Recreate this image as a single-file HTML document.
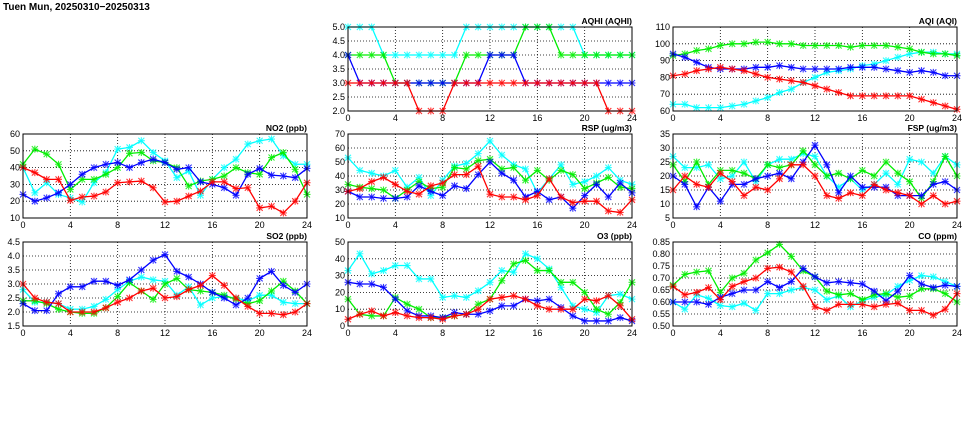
<!DOCTYPE html>
<html><head><meta charset="utf-8"><style>
body{margin:0;background:#fff;width:975px;height:447px;overflow:hidden}
svg{display:block}
text{font-family:"Liberation Sans",sans-serif;font-size:9px;fill:#000}
</style></head><body>
<svg id="s" width="975" height="447" xmlns="http://www.w3.org/2000/svg">
<text x="3" y="10" style="font-size:10px;font-weight:bold">Tuen Mun, 20250310−20250313</text>
</svg>
<script>
const S=document.getElementById('s');let h='';
const C={r:'#ff0000',c:'#00ffff',g:'#00ee00',b:'#0000ff'};
const panels=[
{x:348,y:27,t:'AQHI (AQHI)',min:2,max:5,st:0.5,dec:1,d:{
c:[5,5,5,4,4,4,4,4,4,4,5,5,5,5,5,5,5,5,5,5,4,4,4,4,4],
g:[4,4,4,4,3,3,3,3,3,3,4,4,4,4,4,5,5,5,4,4,4,4,4,4,4],
b:[4,3,3,3,3,3,3,3,3,3,3,3,4,4,4,3,3,3,3,3,3,3,3,3,3],
r:[3,3,3,3,3,3,2,2,2,3,3,3,3,3,3,3,3,3,3,3,3,3,2,2,2]}},
{x:673,y:27,t:'AQI (AQI)',min:60,max:110,st:10,dec:0,d:{
g:[93,94,96,97,99,100,100,101,101,100,100,99,99,99,99,98,99,99,99,98,97,95,94,94,93],
b:[94,92,89,86,85,85,85,86,86,87,86,85,85,85,85,86,86,86,85,84,83,84,83,81,81],
r:[81,82,84,85,86,85,84,82,80,79,78,77,75,73,71,69,69,69,69,69,69,67,65,63,61],
c:[64,64,62,62,62,63,64,66,68,71,73,77,80,83,84,85,87,88,90,92,94,95,95,94,94]}},
{x:23,y:134,t:'NO2 (ppb)',min:10,max:60,st:10,dec:0,d:{
r:[40,37,33,33,20.5,22.5,23,25.5,31,31.5,32,28,19.5,20,23,26,31.5,31.5,27.5,28,16,17,13,20,31],
c:[40,25,31,24,22,19.5,31,37,51,52,56,49,44,34,38,23.5,33,40,45,54,56,57,47,42,42],
g:[42,51,48,42,27,33,33,36,40,48.5,49,44,43,40,29,32,33,35,40,37,36,46,49,39,24],
b:[24,20,22,25,30,36,40,42,43,40,43,45,43,39,40,31.5,30,28,23.5,36,39.5,35.5,35,34,39.5]}},
{x:348,y:134,t:'RSP (ug/m3)',min:10,max:70,st:10,dec:0,d:{
c:[53,44,42,40,44,32,39,26,37,47,49,56,65,55,48,45,28,38,48,34,36,40,46,37,34],
g:[34,32,31,30,24,30,36,31,32,46,45,51,52,45,46,37,44,37,44,41,31,35,39,32,31],
r:[29,31,36,39,34,29,27,33,35,41,41,47,27,25,25,23,26,38,25,21,22,22,15,14,23],
b:[29,25,25,24,24,25,33,29,26,33,31,41,50,42,37,25,29,23,25,17,26,34,25,35,28]}},
{x:673,y:134,t:'FSP (ug/m3)',min:5,max:35,st:5,dec:0,d:{
c:[27,23,23,24,19,20,25,18,24,26,26,28,27,20,16,19,15,17,21,17,26,25,21,27,24],
g:[24,18,25,17,22,22,21,19,24,23,24,29,24,20,21,19,22,20,25,21,18,12,18,27,20],
r:[15,20,17,16,21,18,13,16,15,19,24,24,20,13,12,14,13,17,15,14,13,10,13,10,11],
b:[20,17,9,16,11,17,17,19,20,21,19,25,31,24,14,20,16,16,16,13,13,13,17,18,15]}},
{x:23,y:242,t:'SO2 (ppb)',min:1.5,max:4.5,st:0.5,dec:1,d:{
r:[3.0,2.5,2.35,2.3,2.0,2.0,2.0,2.15,2.35,2.5,2.75,2.85,2.5,2.55,2.8,2.95,3.3,2.95,2.5,2.2,1.95,1.95,1.9,2.0,2.3],
c:[2.8,2.35,2.35,2.3,2.1,2.1,2.2,2.45,2.8,3.1,3.25,3.15,3.1,2.6,2.9,2.25,2.5,2.55,2.5,2.4,2.6,2.6,2.35,2.3,2.3],
g:[2.4,2.4,2.3,2.1,2.0,1.95,1.95,2.15,2.55,3.05,2.75,2.45,3.0,3.2,2.8,2.75,2.7,2.6,2.45,2.3,2.4,2.75,3.1,2.75,2.3],
b:[2.3,2.05,2.05,2.65,2.9,2.9,3.1,3.1,2.95,3.15,3.5,3.85,4.05,3.45,3.25,3.0,2.7,2.5,2.25,2.5,3.2,3.45,2.95,2.7,3.0]}},
{x:348,y:242,t:'O3 (ppb)',min:0,max:50,st:10,dec:0,d:{
c:[33,43,31,33,36,36,28,28,17,18,17,21,26,33,32,43,40,34,23,12,10,8,18,19,16],
g:[16,7,6,6,17,13,10,5,5,6,7,13,16,27,37,39,33,33,26,26,20,10,7,14,26],
r:[4,7,9,6,8,6,5,5,4,6,7,10,16,17,18,16,12,10,10,10,16,15,18,12,4],
b:[26,25,25,23,16,9,6,6,5,8,7,7,9,12,12,16,15,16,11,6,3,3,3,5,3]}},
{x:673,y:242,t:'CO (ppm)',min:0.5,max:0.85,st:0.05,dec:2,d:{
g:[.67,.715,.725,.73,.64,.70,.72,.775,.805,.84,.79,.73,.705,.645,.63,.635,.61,.63,.635,.62,.625,.655,.655,.635,.60],
r:[.665,.63,.64,.66,.61,.665,.685,.70,.74,.745,.725,.665,.58,.565,.59,.59,.59,.58,.59,.595,.565,.565,.545,.57,.635],
c:[.60,.57,.63,.615,.585,.58,.595,.565,.635,.635,.65,.66,.65,.61,.625,.58,.605,.62,.63,.665,.69,.71,.705,.685,.665],
b:[.60,.60,.60,.59,.62,.635,.65,.65,.685,.66,.685,.74,.705,.68,.685,.68,.675,.645,.605,.645,.71,.675,.66,.67,.665]}}
];
const W=284,H=84;
for(const p of panels){
 const X=i=>p.x+i*W/24, Y=v=>p.y+H-(v-p.min)/(p.max-p.min)*H;
 h+=`<rect x="${p.x}" y="${p.y}" width="${W}" height="${H}" fill="#fff"/>`;
 const n=Math.round((p.max-p.min)/p.st);
 for(let k=0;k<=n;k++){const v=p.min+k*p.st,y=Y(v);
  if(k>0&&k<n)h+=`<line x1="${p.x}" x2="${p.x+W}" y1="${y}" y2="${y}" stroke="#000" stroke-width="0.8" stroke-dasharray="1,2"/>`;
  h+=`<text x="${p.x-3}" y="${y+3}" text-anchor="end">${v.toFixed(p.dec)}</text>`;}
 for(let i=0;i<=24;i+=4){const x=X(i);
  if(i>0&&i<24)h+=`<line x1="${x}" x2="${x}" y1="${p.y}" y2="${p.y+H}" stroke="#000" stroke-width="0.8" stroke-dasharray="1,2"/>`;
  h+=`<text x="${x}" y="${p.y+H+10}" text-anchor="middle">${i}</text>`;}
 h+=`<text x="${p.x+W}" y="${p.y-3}" text-anchor="end" style="font-weight:bold;font-size:8.5px">${p.t}</text>`;
 for(const k of ['c','g','b','r']){const d=p.d[k];if(!d)continue;
  h+=`<svg x="${p.x-4}" y="${p.y-4}" width="${W+8}" height="${H+8}" overflow="hidden"><g transform="translate(${4-p.x},${4-p.y})">`;
  h+=`<polyline fill="none" stroke="${C[k]}" stroke-width="1.3" points="${d.map((v,i)=>X(i)+','+Y(v)).join(' ')}"/>`;
  for(let i=0;i<d.length;i++){const x=X(i),y=Y(d[i]);
   h+=`<path d="M${x-3},${y-3}L${x+3},${y+3}M${x-3},${y+3}L${x+3},${y-3}M${x-3.5},${y}H${x+3.5}M${x},${y-3.5}V${y+3.5}" stroke="${C[k]}" stroke-width="1.1" opacity="0.8"/>`;}
  h+=`</g></svg>`;}
 h+=`<rect x="${p.x}" y="${p.y}" width="${W}" height="${H}" fill="none" stroke="#000" stroke-width="1"/>`;
}
S.insertAdjacentHTML('beforeend',h);
</script>
</body></html>
